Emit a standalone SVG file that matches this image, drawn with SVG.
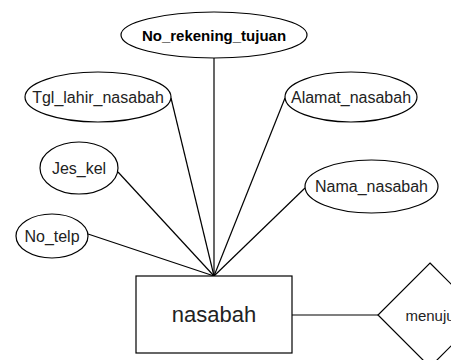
<svg xmlns="http://www.w3.org/2000/svg" width="451" height="360" viewBox="0 0 451 360">
  <style>
    .shape { fill: #ffffff; stroke: #000000; stroke-width: 1.2; }
    .edge { fill: none; stroke: #000000; stroke-width: 1.2; }
    .lbl { font-family: "Liberation Sans", Arial, sans-serif; font-size: 16px; fill: #222222; text-anchor: middle; dominant-baseline: central; }
    .key { font-weight: bold; font-size: 15px; fill: #000000; }
    .ent { font-size: 22px; }
    .rel { font-size: 15px; }
  </style>
  <rect width="451" height="360" fill="#ffffff"/>

  <!-- connectors -->
  <g id="connectors">
    <line class="edge" x1="214" y1="58" x2="214" y2="276"/>
    <line class="edge" x1="171" y1="98" x2="214" y2="276"/>
    <line class="edge" x1="118" y1="172" x2="214" y2="276"/>
    <line class="edge" x1="88" y1="234" x2="214" y2="276"/>
    <line class="edge" x1="285" y1="98" x2="214" y2="276"/>
    <line class="edge" x1="305" y1="188" x2="214" y2="276"/>
    <line class="edge" x1="292" y1="315" x2="378" y2="315"/>
  </g>

  <!-- attributes -->
  <g id="no_rekening_tujuan">
    <ellipse class="shape" cx="214" cy="35" rx="93" ry="23"/>
    <text class="lbl key" x="214" y="35">No_rekening_tujuan</text>
  </g>
  <g id="tgl_lahir_nasabah">
    <ellipse class="shape" cx="98" cy="97" rx="73" ry="25"/>
    <text class="lbl" x="98" y="97">Tgl_lahir_nasabah</text>
  </g>
  <g id="jes_kel">
    <ellipse class="shape" cx="79" cy="168" rx="39" ry="26"/>
    <text class="lbl" x="79" y="168">Jes_kel</text>
  </g>
  <g id="no_telp">
    <ellipse class="shape" cx="52" cy="236" rx="36" ry="22"/>
    <text class="lbl" x="52" y="236">No_telp</text>
  </g>
  <g id="alamat_nasabah">
    <ellipse class="shape" cx="351" cy="97" rx="66" ry="25"/>
    <text class="lbl" x="351" y="97">Alamat_nasabah</text>
  </g>
  <g id="nama_nasabah">
    <ellipse class="shape" cx="371.5" cy="186.5" rx="66.5" ry="26.5"/>
    <text class="lbl" x="371.5" y="186.5">Nama_nasabah</text>
  </g>

  <!-- entity -->
  <g id="nasabah">
    <rect class="shape" x="136" y="276" width="156" height="77"/>
    <text class="lbl ent" x="214" y="314.5">nasabah</text>
  </g>

  <!-- relationship -->
  <g id="menuju">
    <polygon class="shape" points="430,263 482,315 430,367 378,315"/>
    <text class="lbl rel" x="430" y="315">menuju</text>
  </g>
</svg>
